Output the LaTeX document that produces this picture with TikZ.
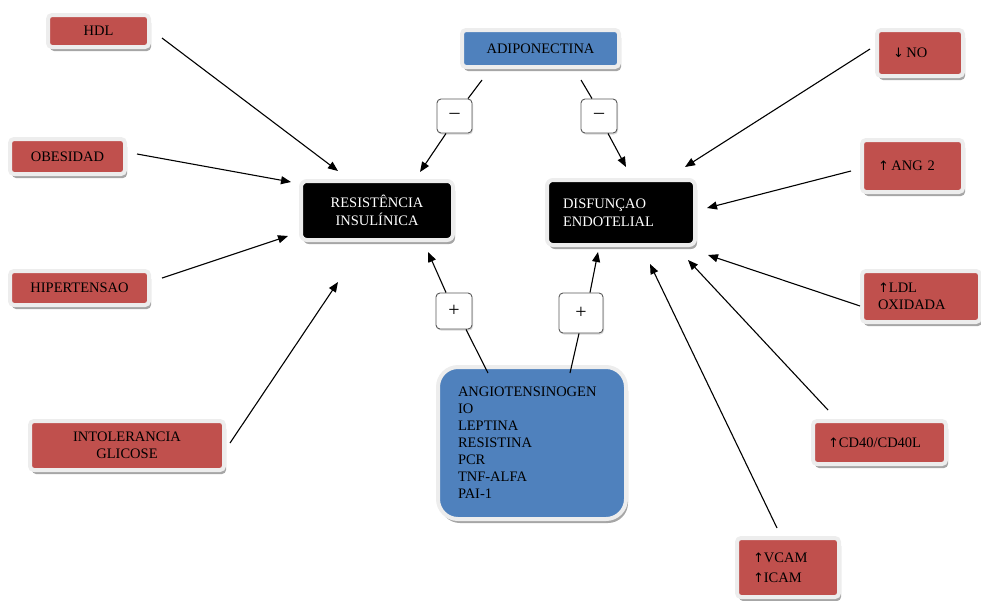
\documentclass[tikz,border=0pt]{standalone}
\usepackage{fontspec}
\setmainfont{Liberation Serif}
\newfontfamily\arrfont{DejaVu Sans}
\newcommand{\upar}{{\arrfont\fontsize{13}{13}\selectfont ↑}}
\newcommand{\dnar}{{\arrfont\fontsize{13}{13}\selectfont ↓}}
\usetikzlibrary{arrows.meta,shadows}
\definecolor{redc}{HTML}{C0504D}
\definecolor{bluec}{HTML}{4F81BD}
\tikzset{
  base/.style={rounded corners=4pt, line width=4pt, draw=white!93!black,
    font=\fontsize{14.5}{17}\selectfont, inner sep=0pt,
    drop shadow={shadow xshift=2pt, shadow yshift=-4pt, fill=black, opacity=0.35}},
  redbox/.style={base, fill=redc, text=black, align=center},
  redleft/.style={base, fill=redc, text=black, align=left},
  blackbox/.style={base, fill=black, text=white, rounded corners=6pt, font=\fontsize{14.5}{18}\selectfont},
  bluebox/.style={base, fill=bluec, text=black},
  pmbox/.style={draw=black!65, line width=0.9pt, fill=white, rounded corners=4pt,
    font=\fontsize{20}{20}\selectfont, inner sep=0pt,
    drop shadow={shadow xshift=1pt, shadow yshift=-1.5pt, fill=black, opacity=0.15}},
  arr/.style={-{Triangle[length=10pt,width=8pt]}, line width=1.1pt, black},
  ln/.style={line width=1.1pt, black}
}
\begin{document}
\begin{tikzpicture}[x=1pt,y=-1pt]
\useasboundingbox (0,0) rectangle (981,600);
% left red boxes
\node[redbox, minimum width=101, minimum height=32] (hdl) at (98.5,31) {HDL};
\node[redbox, minimum width=115, minimum height=35] (obes) at (67.5,156.5) {OBESIDAD};
\node[redbox, minimum width=139, minimum height=34] (hiper) at (79.5,288) {HIPERTENSAO};
\node[redbox, minimum width=194, minimum height=49] (intol) at (127,445.5) {INTOLERANCIA\\GLICOSE};
% top blue
\node[bluebox, minimum width=157, minimum height=37] (adipo) at (540.5,48.5) {ADIPONECTINA};
% central black boxes
\node[blackbox, align=center, minimum width=152, minimum height=59] (res) at (377,210.5) {RESISTÊNCIA\\INSULÍNICA};
\node[blackbox, align=left, minimum width=148, minimum height=65, text width=116, inner xsep=16] (dis) at (621,212.5) {DISFUNÇAO\\ENDOTELIAL};
% right red boxes
\node[redleft, minimum width=86, minimum height=46, text width=54, inner xsep=16] (no) at (920,53) {\dnar\,NO};
\node[redleft, minimum width=101, minimum height=52, text width=69, inner xsep=16] (ang) at (912.5,166) {\upar\,ANG 2};
\node[redleft, minimum width=118, minimum height=51, text width=86, inner xsep=16] (ldl) at (921,296.5) {\upar LDL\\OXIDADA};
\node[redleft, minimum width=133, minimum height=43, text width=103, inner xsep=15] (cd40) at (879.5,442.5) {\upar CD40/CD40L};
\node[redleft, minimum width=102, minimum height=59, text width=70, inner xsep=16, font=\fontsize{14.5}{20}\selectfont] (vcam) at (788,567.5) {\upar VCAM\\\upar ICAM};
% bottom blue box
\node[bluebox, rounded corners=20pt, align=left, minimum width=188, minimum height=152, text width=148, inner xsep=20] (blue) at (532,443)
  {ANGIOTENSINOGEN\\IO\\LEPTINA\\RESISTINA\\PCR\\TNF-ALFA\\PAI-1};
% plus / minus boxes
\node[pmbox, minimum width=35, minimum height=34] (mL) at (454.5,116) {–};
\node[pmbox, minimum width=36, minimum height=34] (mR) at (599,116) {–};
\node[pmbox, minimum width=36, minimum height=36] (pL) at (454,311) {+};
\node[pmbox, minimum width=44, minimum height=40] (pR) at (581,313) {+};
% connectors into RESISTENCIA
\draw[arr] ([shift={(11,7)}]hdl.east) -- ([shift={(-39,-8)}]res.north);
\draw[arr] ([shift={(10,-2.5)}]obes.east) -- ([shift={(-8,-28.5)}]res.west);
\draw[arr] ([shift={(11,-10)}]hiper.east) -- ([shift={(-11,25.5)}]res.west);
\draw[arr] ([shift={(4,-2.5)}]intol.east) -- ([shift={(-39,40)}]res.south);
% adiponectina
\draw[ln] ([shift={(-58.5,11)}]adipo.south) -- ([shift={(13.5,0)}]mL.north);
\draw[arr] ([shift={(-8.5,0)}]mL.south) -- ([shift={(43,-7)}]res.north);
\draw[ln] ([shift={(40.5,11)}]adipo.south) -- ([shift={(-7,0)}]mR.north);
\draw[arr] ([shift={(9,0)}]mR.south) -- ([shift={(5,-11)}]dis.north);
% connectors into DISFUNCAO
\draw[arr] ([shift={(-5,-4)}]no.west) -- ([shift={(-12,-11)}]dis.north east);
\draw[arr] ([shift={(-9,5)}]ang.west) -- ([shift={(10,-4.5)}]dis.east);
\draw[arr] ([shift={(0,9.5)}]ldl.west) -- ([shift={(11,8)}]dis.south east);
\draw[arr] ([shift={(17,-9)}]cd40.north west) -- ([shift={(-9,13)}]dis.south east);
\draw[arr] ([shift={(-11,-8)}]vcam.north) -- ([shift={(29,17)}]dis.south);
% bottom blue box
\draw[ln] ([shift={(-44,8)}]blue.north) -- ([shift={(12,0)}]pL.south);
\draw[arr] ([shift={(-8,0)}]pL.north) -- ([shift={(51,10)}]res.south);
\draw[ln] ([shift={(38,8)}]blue.north) -- ([shift={(-2,0)}]pR.south);
\draw[arr] ([shift={(9,0)}]pR.north) -- ([shift={(-23,5)}]dis.south);
\end{tikzpicture}
\end{document}
